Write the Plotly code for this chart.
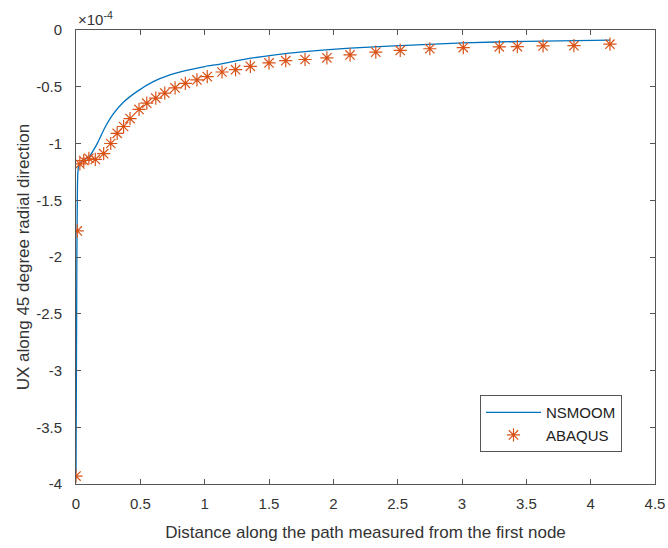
import plotly.graph_objects as go

# NSMOOM curve (units of 1e-4)
nsmoom_x = [0, 0.005, 0.01, 0.02, 0.05, 0.1, 0.13, 0.17, 0.22, 0.29, 0.37, 0.47, 0.6, 0.73,
            0.86, 1.0, 1.12, 1.35, 1.74, 2.13, 2.74, 3.01, 3.5, 4.15]
nsmoom_y = [-3.9, -2.5, -1.5, -1.2, -1.15, -1.12, -1.07, -0.99, -0.87, -0.74, -0.635, -0.545, -0.455, -0.395,
            -0.355, -0.322, -0.30, -0.25, -0.195, -0.16, -0.127, -0.113, -0.10, -0.09]

# ABAQUS points (units of 1e-4)
abaqus_x = [0.0, 0.01, 0.03, 0.06, 0.10, 0.15, 0.215, 0.27, 0.32, 0.37, 0.42, 0.49, 0.55, 0.62,
            0.69, 0.77, 0.85, 0.94, 1.02, 1.135, 1.24, 1.355, 1.50, 1.63, 1.78, 1.95, 2.13,
            2.33, 2.52, 2.75, 3.01, 3.29, 3.43, 3.63, 3.87, 4.15]
abaqus_y = [-3.93, -1.77, -1.18, -1.15, -1.13, -1.14, -1.09, -1.0, -0.91, -0.85, -0.78, -0.70, -0.645, -0.60,
            -0.556, -0.51, -0.47, -0.44, -0.41, -0.37, -0.35, -0.32, -0.29, -0.27, -0.26, -0.245, -0.22,
            -0.195, -0.18, -0.165, -0.155, -0.148, -0.146, -0.14, -0.138, -0.125]

x_ticks = [0, 0.5, 1, 1.5, 2, 2.5, 3, 3.5, 4, 4.5]
x_tick_labels = ["0", "0.5", "1", "1.5", "2", "2.5", "3", "3.5", "4", "4.5"]
y_ticks = [-4, -3.5, -3, -2.5, -2, -1.5, -1, -0.5, 0]
y_tick_labels = ["-4", "-3.5", "-3", "-2.5", "-2", "-1.5", "-1", "-0.5", "0"]

FONT = "Liberation Sans, Arial, sans-serif"
AX = "#555555"
TXT = "#333333"

fig = go.Figure()
fig.add_trace(go.Scatter(x=nsmoom_x, y=nsmoom_y, mode="lines", name="NSMOOM",
                         line=dict(color="#0072BD", width=1.3, shape="spline", smoothing=0.6)))
fig.add_trace(go.Scatter(x=abaqus_x, y=abaqus_y, mode="markers", name="ABAQUS",
                         marker=dict(symbol="asterisk-open", size=11, color="#D95319",
                                     line=dict(color="#D95319", width=1.2))))

axis_common = dict(showline=True, linecolor=AX, linewidth=1, mirror="ticks",
                   ticks="inside", ticklen=5, tickcolor=AX, showgrid=False, zeroline=False,
                   tickfont=dict(family=FONT, size=15, color=TXT))

fig.update_xaxes(range=[0, 4.5], tickvals=x_ticks, ticktext=x_tick_labels, ticklabelstandoff=6,
                 automargin=False,
                 title=dict(text="Distance along the path measured from the first node",
                            font=dict(family=FONT, size=17, color=TXT)),
                 **axis_common)
fig.update_yaxes(range=[-4, 0], tickvals=y_ticks, ticktext=y_tick_labels, ticklabelstandoff=10,
                 automargin=True,
                 title=dict(text="UX along 45 degree radial direction", standoff=2,
                            font=dict(family=FONT, size=17, color=TXT)),
                 **axis_common)

fig.add_annotation(x=0, y=1, xref="paper", yref="paper", xanchor="left", yanchor="bottom",
                   text="×10<sup>-4</sup>", showarrow=False, yshift=0,
                   font=dict(family=FONT, size=15, color=TXT))

fig.update_layout(
    width=668, height=548,
    margin=dict(l=76, r=13, t=30, b=64),
    plot_bgcolor="white", paper_bgcolor="white",
    showlegend=True,
    legend=dict(x=0.943, y=0.07, xanchor="right", yanchor="bottom",
                bgcolor="white", bordercolor=AX, borderwidth=1,
                font=dict(family=FONT, size=15, color="#222222"),
                itemwidth=55, tracegroupgap=2),
)

fig.write_html("out.html")
